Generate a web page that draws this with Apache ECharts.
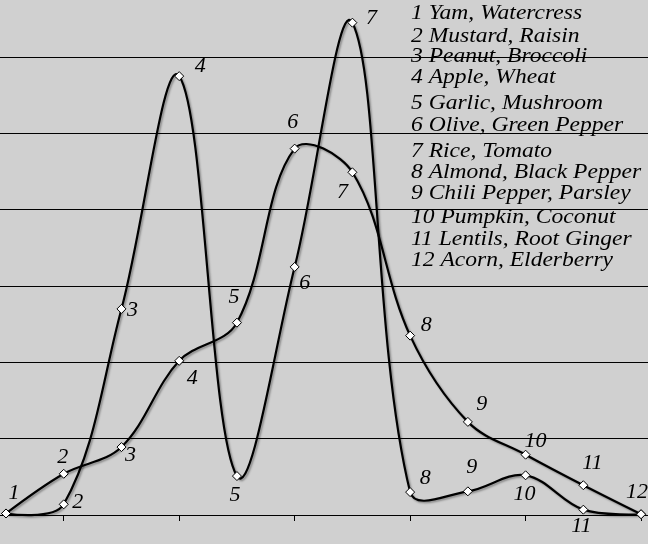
<!DOCTYPE html>
<html>
<head>
<meta charset="utf-8">
<script src="https://cdn.jsdelivr.net/npm/echarts@6/dist/echarts.min.js"></script>
<style>
html,body{margin:0;padding:0;background:#d0d0d0;}
#c{width:648px;height:544px;}
</style>
</head>
<body>
<div id="c"></div>
<script>
// ---- data ----
const categories = ['1','2','3','4','5','6','7','8','9','10','11','12'];
const seriesA = [0.02, 0.54, 0.89, 2.02, 2.52, 4.80, 4.49, 2.35, 1.22, 0.79, 0.39, 0.01];
const seriesB = [0.02, 0.14, 2.70, 5.75, 0.51, 3.25, 6.45, 0.30, 0.31, 0.52, 0.07, 0.01];
const legendLines = [
  '1 Yam, Watercress',
  '2 Mustard, Raisin',
  '3 Peanut, Broccoli',
  '4 Apple, Wheat',
  '5 Garlic, Mushroom',
  '6 Olive, Green Pepper',
  '7 Rice, Tomato',
  '8 Almond, Black Pepper',
  '9 Chili Pepper, Parsley',
  '10 Pumpkin, Coconut',
  '11 Lentils, Root Ginger',
  '12 Acorn, Elderberry'
];
const tickValues = [1, 3, 5, 7, 9, 11];

// ---- layout / style (label placement) ----
const labelOffA = [[8,-20],[-1,-17],[9,8],[13,17],[-3,-25],[-2,-26],[-10,20],[16,-10],[14,-18],[10,-13],[9,-22],[-4,-22]];
const labelOffB = [null,[14,-2],[11,1],[21,-10],[-2,19],[10,16],[19,-4],[15,-14],[4,-24],[-1,19],[-2,17],null];
const legendY = [13, 36, 56, 77, 103, 125, 151, 172, 193, 217, 239, 260];

const labelFont = {fontFamily:'Liberation Serif', fontStyle:'italic', fontSize:22, color:'#000'};

function makeData(vals, offs) {
  return vals.map((v, i) => ({
    value: [i, v],
    label: offs[i] ? {show:true, offset: offs[i]} : {show:false}
  }));
}

function makeCurve(vals) {
  return {
    type: 'custom',
    coordinateSystem: 'cartesian2d',
    data: vals.map((v, i) => [i, v]),
    encode: {x: 0, y: 1},
    silent: true,
    animation: false,
    z: 2,
    renderItem: function (params, api) {
      if (params.dataIndex !== 0) return null;
      const pts = vals.map((v, i) => api.coord([i, v]));
      return {
        type: 'polyline',
        shape: {points: pts, smooth: 0.36},
        style: {
          stroke: '#000', lineWidth: 2.2, fill: null,
          shadowColor: 'rgba(0,0,0,0.35)', shadowBlur: 2, shadowOffsetX: 1.5, shadowOffsetY: 1.5
        }
      };
    }
  };
}

function makeMarkers(vals, offs) {
  return {
    type: 'line',
    data: makeData(vals, offs),
    symbol: 'diamond',
    symbolSize: 9,
    showAllSymbol: true,
    lineStyle: {opacity: 0, width: 0},
    itemStyle: {color:'#fff', borderColor:'#000', borderWidth:1},
    label: Object.assign({
      position: 'inside',
      align: 'center',
      verticalAlign: 'middle',
      formatter: p => categories[p.dataIndex]
    }, labelFont),
    emphasis: {disabled:true},
    animation: false,
    z: 3
  };
}

const chart = echarts.init(document.getElementById('c'), null, {renderer:'canvas'});
chart.setOption({
  backgroundColor: '#d0d0d0',
  animation: false,
  grid: {left: 0, right: 0, top: -19.3, bottom: 29, containLabel: false, outerBoundsMode: 'none'},
  xAxis: {
    type: 'value',
    min: -0.104,
    max: 11.12,
    axisLine: {show:true, lineStyle:{color:'#000', width:1}},
    axisTick: {show:true, customValues: tickValues, length:6, inside:false, lineStyle:{color:'#000', width:1}},
    axisLabel: {show:false},
    splitLine: {show:false}
  },
  yAxis: {
    type: 'value',
    min: 0,
    max: 7,
    interval: 1,
    axisLine: {show:false},
    axisTick: {show:false},
    axisLabel: {show:false},
    splitLine: {show:true, lineStyle:{color:'#000', width:1}}
  },
  series: [makeCurve(seriesA), makeCurve(seriesB), makeMarkers(seriesA, labelOffA), makeMarkers(seriesB, labelOffB)],
  graphic: legendLines.map((t, i) => ({
    type: 'text',
    x: 411,
    y: legendY[i],
    scaleX: 1.07,
    z: 10,
    style: {
      text: t,
      x: 0, y: 0,
      fontFamily: 'Liberation Serif',
      fontStyle: 'italic',
      fontSize: 22,
      fill: '#000',
      verticalAlign: 'middle',
      align: 'left'
    }
  }))
});
</script>
</body>
</html>
